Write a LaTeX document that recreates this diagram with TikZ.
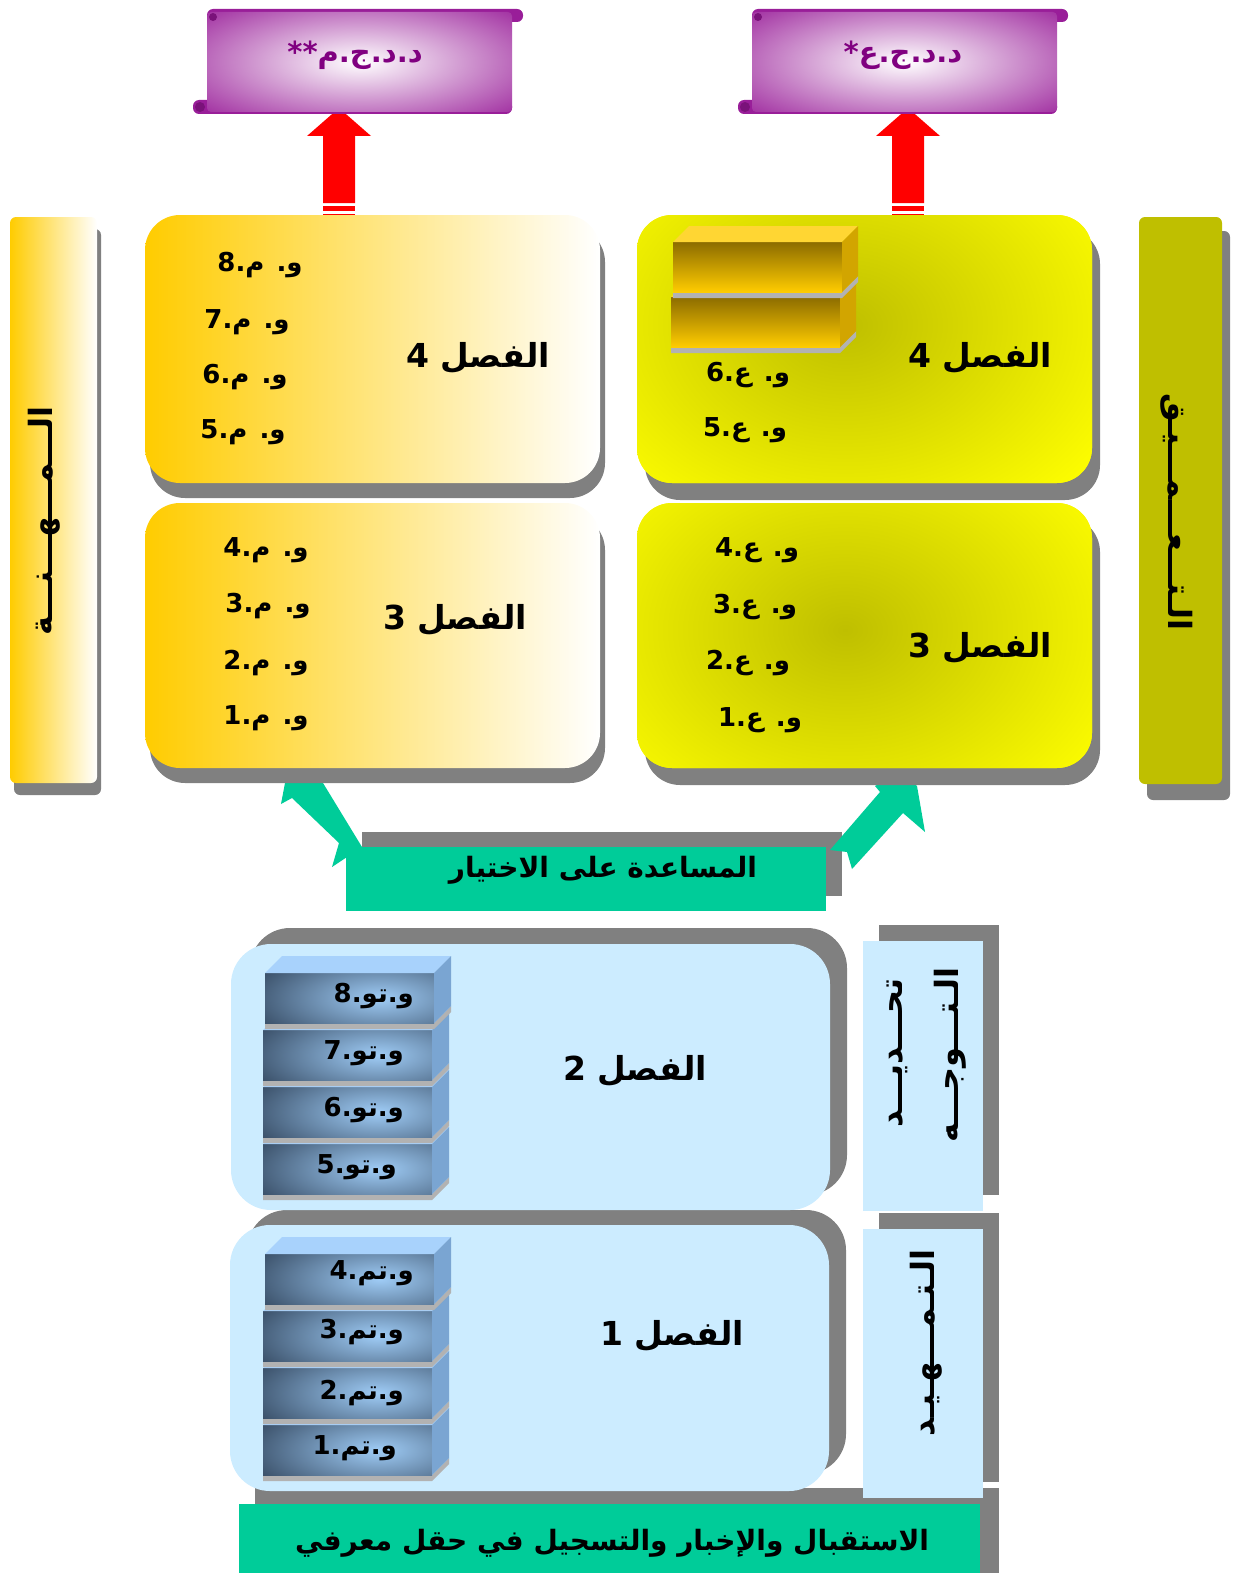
\documentclass[tikz,border=0pt]{standalone}
\usepackage{fontspec}
\usepackage{tikz}
\TeXXeTstate=1
\newfontfamily\arabicfont[Script=Arabic]{DejaVu Sans}

\definecolor{gold}{HTML}{FFCC00}
\definecolor{golddark}{HTML}{8C6C00}
\definecolor{goldtop}{HTML}{FFD633}
\definecolor{goldside}{HTML}{D2A500}
\definecolor{olivebar}{HTML}{BFBF00}
\definecolor{olivelight}{HTML}{E8E800}
\definecolor{shadowgray}{HTML}{808080}
\definecolor{stripgray}{HTML}{B2B2B2}
\definecolor{paleblue}{HTML}{CCECFF}
\definecolor{mint}{HTML}{00CC99}
\definecolor{scrollpurple}{HTML}{991E99}
\definecolor{scrolldark}{HTML}{7A127A}
\definecolor{textpurple}{HTML}{800080}
\definecolor{arrowred}{HTML}{FF0000}
\definecolor{blockdark}{HTML}{2F4259}
\definecolor{blocklight}{HTML}{9FCCF6}
\definecolor{blocktop}{HTML}{A8D2FC}
\definecolor{blockside}{HTML}{7AA5D2}

% gold brick, front face top-left corner at (#1,#2)
\newcommand{\goldbrick}[2]{%
  \fill[stripgray] (#1,#2+50) -- (#1+169,#2+50) -- (#1+185,#2+34) -- (#1+185,#2+40) -- (#1+169,#2+56) -- (#1,#2+56) -- cycle;
  \shade[top color=golddark, bottom color=gold] (#1,#2) rectangle (#1+169,#2+50);
  \fill[goldtop] (#1,#2) -- (#1+16,#2-16) -- (#1+185,#2-16) -- (#1+169,#2) -- cycle;
  \fill[goldside] (#1+169,#2) -- (#1+185,#2-16) -- (#1+185,#2+34) -- (#1+169,#2+50) -- cycle;
}
% blue brick, front face top-left corner at (#1,#2)
\newcommand{\bluebrick}[2]{%
  \fill[stripgray] (#1,#2+50) -- (#1+169,#2+50) -- (#1+186,#2+33) -- (#1+186,#2+39) -- (#1+169,#2+56) -- (#1,#2+56) -- cycle;
  \begin{scope}
    \clip (#1,#2) rectangle (#1+169,#2+50);
    \shade[inner color=blocklight, outer color=blockdark] (#1+115,#2+25) ellipse (150 and 56);
  \end{scope}
  \fill[blocktop] (#1,#2) -- (#1+17,#2-17) -- (#1+186,#2-17) -- (#1+169,#2) -- cycle;
  \fill[blockside] (#1+169,#2) -- (#1+186,#2-17) -- (#1+186,#2+33) -- (#1+169,#2+50) -- cycle;
}

\begin{document}
\begin{tikzpicture}[x=1pt, y=-1pt,
  chapter/.style={font=\arabicfont\bfseries\fontsize{33}{40}\selectfont, inner sep=0pt},
  unit/.style={font=\arabicfont\bfseries\fontsize{26}{32}\selectfont, inner sep=0pt},
  brickunit/.style={unit, anchor=east},
  scrolltext/.style={font=\arabicfont\bfseries\fontsize{29}{35}\selectfont, text=textpurple, inner sep=0pt},
  sidetext/.style={font=\arabicfont\bfseries\fontsize{32}{38}\selectfont, inner sep=0pt},
  bannertext/.style={font=\arabicfont\bfseries\fontsize{28}{34}\selectfont, inner sep=0pt}]
\useasboundingbox (0,0) rectangle (1236,1573);

% red arrows up to the scrolls
\foreach \cx in {339,908}{
	\fill[arrowred] (\cx-16,203) -- (\cx-16,136) -- (\cx-32,136) -- (\cx,108) -- (\cx+32,136) -- (\cx+16,136) -- (\cx+16,203) -- cycle;
	\fill[arrowred] (\cx-16,206) rectangle (\cx+16,211);
	\fill[arrowred] (\cx-16,214) rectangle (\cx+16,219);
}

% scrolls
\foreach \xa/\xb in {207/512, 752/1057}{
	\fill[scrollpurple, rounded corners=6] (\xa,9) rectangle (\xb+11,22);
	\fill[scrollpurple, rounded corners=6] (\xa-14,100) rectangle (\xb,114);
	\begin{scope}
		\clip[rounded corners=4] (\xa,12) rectangle (\xb,112);
		\fill[scrollpurple] (\xa,12) rectangle (\xb,112);
		\shade[inner color=white, outer color=scrollpurple] ({(\xa+\xb)/2},62) ellipse ({0.75*(\xb-\xa)} and 82);
	\end{scope}
	\fill[scrolldark] (\xa+6,17) circle (4);
	\fill[scrolldark] (\xa-7,107) circle (5);
}
\node[scrolltext] (ddjm) at (355,55) {\beginR د.د.ج.م**\endR};
\node[scrolltext] (ddja) at (903,55) {\beginR د.د.ج.ع*\endR};

% shadow of the middle banner
\fill[shadowgray] (362,832) rectangle (842,896);

% green arrows
\fill[mint] (300,770) -- (285,783) -- (281,804) -- (292,798) -- (339,843) -- (332,867) -- (350,855) -- (362,847) -- (323,783) -- (315,770) -- cycle;
\fill[mint] (875,786) -- (880,792) -- (830,850) -- (847,852) -- (852,869) -- (903,813) -- (925,832) -- (917,786) -- (900,772) -- cycle;

% left bar
\fill[shadowgray, rounded corners=6] (14,229) rectangle (101,795);
\shade[left color=gold, right color=white, rounded corners=6] (10,217) rectangle (97,783);

% orange boxes
\foreach \ya/\yb in {215/483, 503/768}{
	\fill[shadowgray, rounded corners=35] (150,\ya+12) rectangle (605,\yb+15);
	\shade[left color=gold, right color=white, rounded corners=35] (145,\ya) rectangle (600,\yb);
}

% yellow boxes
\foreach \ya/\yb/\yc in {215/483/325, 503/768/630}{
	\fill[shadowgray, rounded corners=35] (645,\ya+14) rectangle (1100,\yb+17);
	\fill[yellow, rounded corners=35] (637,\ya) rectangle (1092,\yb);
	\begin{scope}
		\clip[rounded corners=35] (637,\ya) rectangle (1092,\yb);
		\shade[inner color=olivebar, outer color=yellow] (845,\yc) ellipse (320 and 240);
	\end{scope}
}
\goldbrick{671}{297}
\goldbrick{673}{242}

% right bar
\fill[shadowgray, rounded corners=6] (1147,231) rectangle (1230,800);
\shade[left color=olivebar, middle color=olivelight, right color=olivebar, rounded corners=6] (1139,217) rectangle (1222,784);

% texts of the upper boxes
\node[chapter] (chapMfour) at (478,358) {\beginR الفصل 4\endR};
\node[chapter] (chapMthree) at (455,620) {\beginR الفصل 3\endR};
\node[chapter] (chapAfour) at (980,358) {\beginR الفصل 4\endR};
\node[chapter] (chapAthree) at (980,648) {\beginR الفصل 3\endR};

\node[unit] (mEight) at (260,265) {\beginR و. م.8\endR};
\node[unit] (mSeven) at (247,322) {\beginR و. م.7\endR};
\node[unit] (mSix) at (245,377) {\beginR و. م.6\endR};
\node[unit] (mFive) at (243,432) {\beginR و. م.5\endR};
\node[unit] (mFour) at (266,550) {\beginR و. م.4\endR};
\node[unit] (mThree) at (268,606) {\beginR و. م.3\endR};
\node[unit] (mTwo) at (266,663) {\beginR و. م.2\endR};
\node[unit] (mOne) at (266,718) {\beginR و. م.1\endR};

\node[unit] (aSix) at (748,375) {\beginR و. ع.6\endR};
\node[unit] (aFive) at (745,430) {\beginR و. ع.5\endR};
\node[unit] (aFour) at (757,550) {\beginR و. ع.4\endR};
\node[unit] (aThree) at (755,607) {\beginR و. ع.3\endR};
\node[unit] (aTwo) at (748,663) {\beginR و. ع.2\endR};
\node[unit] (aOne) at (760,720) {\beginR و. ع.1\endR};

\node[sidetext, rotate=90] (profession) at (44,521) {\beginR الـــمـــهـــنـــة\endR};
\node[sidetext, rotate=-90] (deepening) at (1177,512) {\beginR الـتـــعـــمـــيـق\endR};

% middle banner
\fill[mint] (346,847) rectangle (826,911);
\node[bannertext] (choice) at (603,870) {\beginR المساعدة على الاختيار\endR};

% lower shadows
\fill[shadowgray, rounded corners=40] (250,928) rectangle (847,1195);
\fill[shadowgray, rounded corners=40] (247,1210) rectangle (846,1474);
\fill[shadowgray] (879,925) rectangle (999,1195);
\fill[shadowgray] (879,1213) rectangle (999,1482);
\fill[shadowgray] (255,1488) rectangle (999,1573);

% lower boxes
\fill[paleblue, rounded corners=40] (231,944) rectangle (830,1210);
\fill[paleblue, rounded corners=40] (230,1225) rectangle (829,1491);
\fill[paleblue] (863,941) rectangle (983,1211);
\fill[paleblue] (863,1229) rectangle (983,1498);

\foreach \by/\bx in {1144/263, 1087/263, 1030/263, 973/265}{\bluebrick{\bx}{\by}}
\foreach \by/\bx in {1425/263, 1368/263, 1311/263, 1254/265}{\bluebrick{\bx}{\by}}

\node[brickunit] (toEight) at (414,996) {\beginR و.تو.8\endR};
\node[brickunit] (toSeven) at (404,1053) {\beginR و.تو.7\endR};
\node[brickunit] (toSix) at (404,1110) {\beginR و.تو.6\endR};
\node[brickunit] (toFive) at (397,1167) {\beginR و.تو.5\endR};
\node[brickunit] (tmFour) at (414,1273) {\beginR و.تم.4\endR};
\node[brickunit] (tmThree) at (404,1332) {\beginR و.تم.3\endR};
\node[brickunit] (tmTwo) at (404,1393) {\beginR و.تم.2\endR};
\node[brickunit] (tmOne) at (397,1448) {\beginR و.تم.1\endR};

\node[chapter] (chapTwo) at (635,1071) {\beginR الفصل 2\endR};
\node[chapter] (chapOne) at (672,1336) {\beginR الفصل 1\endR};

\node[sidetext, rotate=90] (define) at (897,1053) {\beginR تحـــديـــد\endR};
\node[sidetext, rotate=90] (orient) at (950,1055) {\beginR الـتـــوجـــه\endR};
\node[sidetext, rotate=90] (intro) at (926,1343) {\beginR الـتـمـــهـيـد\endR};

% bottom banner
\fill[mint] (239,1504) rectangle (980,1573);
\node[bannertext] (welcome) at (612,1543) {\beginR الاستقبال والإخبار والتسجيل في حقل معرفي\endR};
\end{tikzpicture}
\end{document}
